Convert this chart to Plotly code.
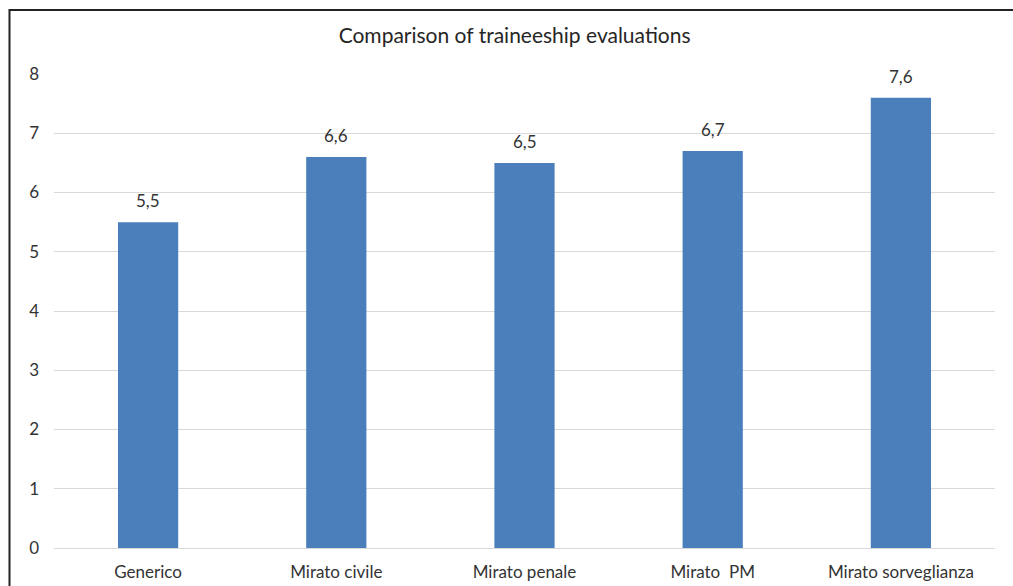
import plotly.graph_objects as go

categories = ["Generico", "Mirato civile", "Mirato penale", "Mirato\u00a0 PM", "Mirato sorveglianza"]
scores = [5.5, 6.6, 6.5, 6.7, 7.6]
y_ticks = [0, 1, 2, 3, 4, 5, 6, 7, 8]

text_col = "#333333"
font_name = "Lato, 'Noto Sans', sans-serif"

fig = go.Figure()
fig.add_trace(go.Bar(
    x=categories,
    y=scores,
    marker=dict(color="#4a7fbc", line=dict(width=0)),
    hoverinfo="x+y",
))

# value labels above bars, Excel style (comma decimals)
for cat, val in zip(categories, scores):
    fig.add_annotation(x=cat, y=val, text=f"{val:.1f}".replace(".", ","),
                       showarrow=False, yanchor="bottom", yshift=9,
                       font=dict(size=17, color=text_col))

fig.update_layout(
    width=1013,
    height=586,
    separators=",.",
    paper_bgcolor="white",
    plot_bgcolor="white",
    font=dict(family=font_name, color=text_col, size=17),
    title=dict(text="Comparison of traineeship evaluations", x=0.508, xanchor="center",
               y=0.9386, yanchor="middle", font=dict(size=21, color="#262626")),
    margin=dict(l=54, r=18, t=74, b=38),
    bargap=0.68,
    showlegend=False,
    xaxis=dict(showgrid=False, showline=False, ticks="", ticklabelstandoff=12,
               automargin=False, tickfont=dict(size=17)),
    yaxis=dict(range=[0, 8], tickvals=y_ticks, showgrid=True, gridcolor="#d9d9d9",
               gridwidth=1, zeroline=True, zerolinecolor="#d9d9d9", zerolinewidth=1,
               showline=False, ticks="", ticklabelstandoff=14, automargin=False,
               tickfont=dict(size=17)),
)

# outer chart frame, cut off at right and bottom like the source image
fig.add_shape(type="rect", xref="paper", yref="paper",
              x0=-0.0473, x1=1.1, y0=-0.3, y1=1.135,
              line=dict(color="#222222", width=2), fillcolor="rgba(0,0,0,0)", layer="above")

fig.write_html("out.html", config={"displayModeBar": False},
               post_script="document.body.style.margin='0';document.body.style.overflow='hidden';")
